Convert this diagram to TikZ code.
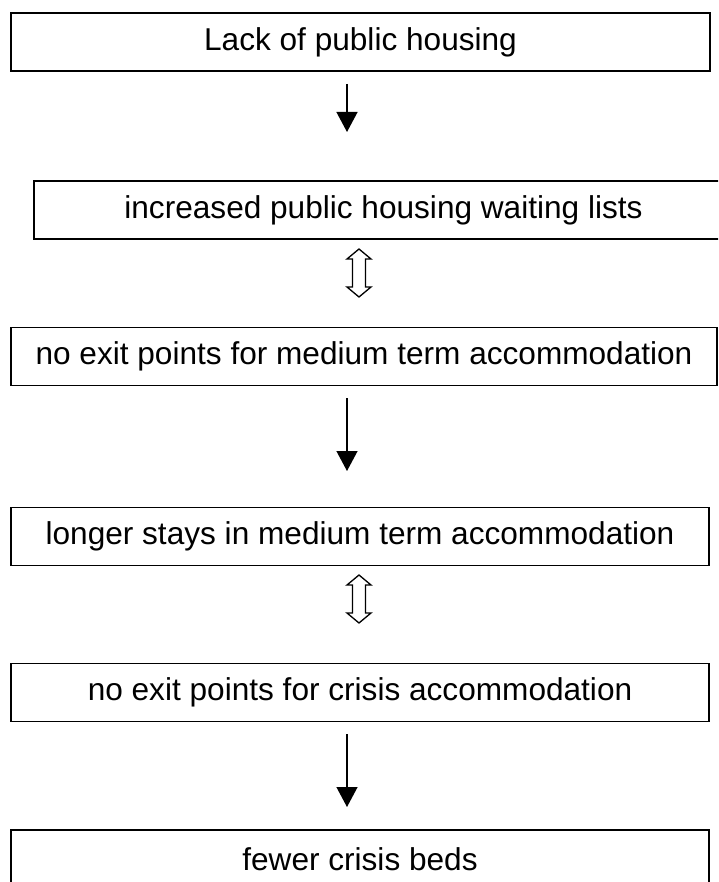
\documentclass[tikz,border=0pt]{standalone}
\usepackage{fontspec}
\setmainfont{Liberation Sans}
\usepackage{tikz}
\usetikzlibrary{arrows.meta}
\tikzset{
	box/.style={draw,line width=1.6pt,minimum height=58pt,inner sep=0pt,font=\fontsize{31.6}{36}\selectfont},
	down/.style={line width=1.3pt,-{Triangle[length=20pt,width=21pt]}},
	hollow/.style={line width=1.3pt,line join=miter}
}

\begin{document}
\begin{tikzpicture}[x=1pt,y=-1pt]
	\useasboundingbox (0,0) rectangle (718,882);
	\clip (0,0) rectangle (718,882);
	
	%Cases
	\node[box,minimum width=699pt] (lack) at (360.5,42) {Lack of public housing};
	\node[box,minimum width=699pt] (wait) at (383.5,210) {increased public housing waiting lists};
	\node[box,minimum width=706pt] (medexit) at (364,356.5) {no exit points for medium term accommodation};
	\node[box,minimum width=698pt] (medstay) at (360,536.5) {longer stays in medium term accommodation};
	\node[box,minimum width=698pt] (crisexit) at (360,692.5) {no exit points for crisis accommodation};
	\node[box,minimum width=698pt] (beds) at (360,859) {fewer crisis beds};
	
	%Extremites des fleches
	\coordinate (a1s) at (347,84);
	\coordinate (a1e) at (347,132);
	\coordinate (a2s) at (347,398);
	\coordinate (a2e) at (347,471);
	\coordinate (a3s) at (347,734);
	\coordinate (a3e) at (347,807);
	
	%Fleches simples
	\draw[down] (a1s) -- (a1e);
	\draw[down] (a2s) -- (a2e);
	\draw[down] (a3s) -- (a3e);
	
	%Fleches doubles
	\coordinate (d1) at (359,249);
	\coordinate (d2) at (359,575);
	\foreach \d in {d1,d2}
		\draw[hollow] (\d) -- ++(12,10) -- ++(-5.5,0) -- ++(0,28) -- ++(5.5,0) -- ++(-12,10) -- ++(-12,-10) -- ++(5.5,0) -- ++(0,-28) -- ++(-5.5,0) -- cycle;
	
\end{tikzpicture}
\end{document}
